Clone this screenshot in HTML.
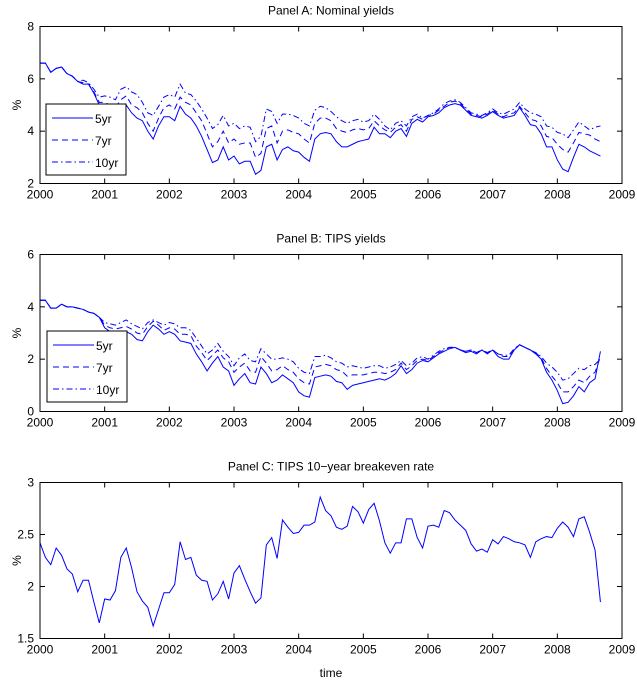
<!DOCTYPE html>
<html><head><meta charset="utf-8">
<style>
html,body{margin:0;padding:0;background:#fff;}
svg{display:block;font-family:"Liberation Sans",sans-serif;}
</style></head>
<body>
<svg id="fig" width="637" height="681" viewBox="0 0 637 681" xmlns="http://www.w3.org/2000/svg"></svg>
<script>
// ---- data (monthly, Jan 2000 .. Sep 2008) ----
const startYear = 2000;
const xTicks = [2000,2001,2002,2003,2004,2005,2006,2007,2008,2009];
const yTicksA = [2,4,6,8];
const yTicksB = [0,2,4,6];
const yTicksC = [1.5,2,2.5,3];
const yTickLabelsC = ["1.5","2","2.5","3"];
const seriesNames = ["5yr","7yr","10yr"];

const nominal5 = [6.6,6.6,6.25,6.4,6.45,6.2,6.1,5.9,5.8,5.8,5.45,5.0,
4.9,4.9,4.6,4.8,5.0,4.7,4.5,4.4,4.0,3.7,4.2,4.55,
4.55,4.4,4.95,4.65,4.5,4.2,3.8,3.3,2.8,2.9,3.4,2.9,
3.05,2.75,2.85,2.85,2.35,2.5,3.4,3.5,2.9,3.3,3.4,3.25,
3.2,3.0,2.85,3.7,3.9,3.95,3.9,3.6,3.4,3.4,3.5,3.6,
3.65,3.7,4.15,3.9,3.9,3.75,4.0,4.1,3.8,4.3,4.45,4.35,
4.55,4.6,4.7,4.9,5.0,5.05,5.0,4.8,4.6,4.55,4.5,4.6,
4.75,4.6,4.5,4.55,4.6,4.9,4.6,4.25,4.2,3.9,3.4,3.4,
2.9,2.55,2.45,3.0,3.5,3.4,3.25,3.15,3.05];
const nominal7 = [6.6,6.6,6.25,6.4,6.45,6.2,6.1,5.9,5.85,5.8,5.5,5.1,
5.1,5.0,4.9,5.2,5.35,5.0,4.9,4.7,4.3,4.0,4.5,4.9,
5.0,4.85,5.3,5.1,5.0,4.7,4.4,3.9,3.4,3.6,4.0,3.55,
3.7,3.5,3.55,3.55,3.0,3.15,4.1,4.2,3.55,4.0,4.05,3.95,
3.9,3.7,3.55,4.3,4.5,4.5,4.4,4.1,4.0,3.95,4.05,4.1,
4.05,4.1,4.4,4.2,4.05,3.95,4.15,4.25,4.0,4.45,4.55,4.45,
4.6,4.65,4.8,4.95,5.1,5.15,5.05,4.85,4.65,4.6,4.55,4.65,
4.8,4.65,4.55,4.65,4.7,4.95,4.7,4.45,4.4,4.2,3.8,3.75,
3.5,3.3,3.2,3.55,3.95,3.9,3.85,3.7,3.6];
const nominal10 = [6.6,6.6,6.25,6.4,6.45,6.2,6.1,5.9,5.95,5.85,5.6,5.3,
5.35,5.3,5.2,5.6,5.7,5.5,5.4,5.1,4.7,4.6,4.95,5.3,
5.4,5.3,5.8,5.45,5.4,5.15,4.85,4.5,4.1,4.25,4.6,4.2,
4.3,4.1,4.2,4.15,3.6,3.8,4.85,4.75,4.3,4.65,4.65,4.6,
4.5,4.3,4.2,4.8,4.95,4.9,4.75,4.55,4.4,4.3,4.4,4.45,
4.35,4.4,4.65,4.45,4.2,4.05,4.3,4.4,4.2,4.55,4.65,4.5,
4.6,4.7,4.85,5.05,5.15,5.2,5.1,4.9,4.7,4.65,4.6,4.7,
4.85,4.7,4.65,4.75,4.85,5.1,4.85,4.7,4.65,4.55,4.2,4.15,
3.95,3.9,3.75,4.05,4.35,4.2,4.05,4.15,4.2];

const tips5 = [4.25,4.25,3.95,3.95,4.1,4.0,4.0,3.95,3.9,3.8,3.75,3.6,
3.2,3.05,3.0,3.0,3.05,2.95,2.75,2.7,3.05,3.3,3.15,2.95,
3.05,2.95,2.7,2.65,2.6,2.2,1.9,1.55,1.85,2.1,1.7,1.55,
1.0,1.25,1.45,1.1,1.05,1.7,1.45,1.1,1.2,1.4,1.25,1.1,
0.75,0.6,0.55,1.3,1.35,1.4,1.35,1.15,1.1,0.85,1.0,1.05,
1.1,1.15,1.2,1.25,1.2,1.3,1.45,1.75,1.45,1.6,1.85,1.95,
1.9,2.05,2.2,2.3,2.4,2.45,2.35,2.25,2.3,2.2,2.35,2.2,
2.35,2.1,2.0,2.0,2.35,2.55,2.45,2.35,2.2,2.0,1.5,1.2,
0.8,0.3,0.35,0.6,0.95,0.75,1.1,1.25,2.3];
const tips7 = [4.25,4.25,3.95,3.95,4.1,4.0,4.0,3.95,3.9,3.8,3.75,3.6,
3.3,3.2,3.15,3.2,3.25,3.15,3.0,2.95,3.25,3.45,3.3,3.1,
3.2,3.15,2.95,2.95,2.9,2.5,2.25,1.95,2.15,2.35,2.05,1.9,
1.5,1.7,1.85,1.55,1.5,2.1,1.85,1.55,1.6,1.75,1.6,1.5,
1.25,1.1,1.05,1.7,1.75,1.8,1.75,1.6,1.55,1.35,1.4,1.4,
1.4,1.45,1.5,1.5,1.45,1.5,1.6,1.85,1.6,1.75,1.95,2.0,
1.95,2.1,2.25,2.35,2.45,2.45,2.35,2.3,2.35,2.25,2.35,2.25,
2.35,2.2,2.1,2.1,2.4,2.55,2.45,2.35,2.25,2.05,1.65,1.35,
1.1,0.75,0.75,0.95,1.2,1.1,1.35,1.5,2.1];
const tips10 = [4.25,4.25,3.95,3.95,4.1,4.0,4.0,3.95,3.9,3.8,3.75,3.6,
3.4,3.35,3.3,3.4,3.5,3.35,3.25,3.15,3.4,3.5,3.4,3.3,
3.4,3.35,3.2,3.2,3.1,2.8,2.5,2.2,2.35,2.6,2.3,2.1,
1.75,2.05,2.2,1.95,1.9,2.4,2.2,2.0,2.0,2.05,2.0,1.9,
1.65,1.5,1.45,2.1,2.1,2.15,2.05,1.9,1.85,1.7,1.75,1.7,
1.65,1.7,1.75,1.75,1.65,1.7,1.8,1.95,1.75,1.85,2.05,2.1,
2.0,2.15,2.3,2.4,2.45,2.45,2.35,2.3,2.35,2.25,2.35,2.25,
2.35,2.2,2.15,2.15,2.4,2.55,2.45,2.35,2.25,2.1,1.85,1.7,
1.5,1.2,1.25,1.45,1.65,1.6,1.75,1.8,2.0];

const breakeven10 = [2.42,2.28,2.21,2.37,2.30,2.17,2.12,1.95,2.06,2.06,1.85,1.65,
1.88,1.87,1.96,2.28,2.37,2.18,1.95,1.86,1.80,1.62,1.78,1.94,
1.94,2.02,2.43,2.26,2.28,2.11,2.06,2.05,1.87,1.93,2.05,1.88,
2.13,2.20,2.07,1.95,1.84,1.89,2.40,2.47,2.27,2.64,2.57,2.51,
2.52,2.59,2.59,2.62,2.86,2.73,2.68,2.57,2.55,2.58,2.77,2.72,
2.61,2.74,2.80,2.63,2.42,2.32,2.42,2.42,2.65,2.65,2.47,2.37,
2.58,2.59,2.57,2.73,2.71,2.64,2.59,2.54,2.41,2.34,2.36,2.33,
2.45,2.41,2.48,2.46,2.43,2.42,2.40,2.28,2.43,2.46,2.48,2.47,
2.56,2.62,2.57,2.48,2.65,2.67,2.52,2.35,1.85];

// ---- drawing ----
const NS = "http://www.w3.org/2000/svg";
const svg = document.getElementById("fig");
const BLUE = "#0000ff";
const dashes = [null, "6,4", "6,3,1.5,3"];
function mk(tag, attrs, parent){
  const e = document.createElementNS(NS, tag);
  for (const k in attrs) e.setAttribute(k, attrs[k]);
  (parent||svg).appendChild(e);
  return e;
}
const L = 40, R = 622;
function xScale(t){ return L + (t - 2000) / 9 * (R - L); }

function panel(key, top, bottom, yMin, yMax, yTicks, yLabels, title, series, legend){
  const g = mk("g", {});
  
  
  const ys = v => bottom - (v - yMin) / (yMax - yMin) * (bottom - top);
  const ttl = mk("text", {x:(L+R)/2, y:top-12, "text-anchor":"middle", "font-size":"12"}, g);
  ttl.textContent = title;
  
  
  series.forEach((vals, si) => {
    let d = "";
    vals.forEach((v, i) => {
      const t = startYear + i / 12;
      d += (i ? "L" : "M") + xScale(t).toFixed(2) + "," + ys(v).toFixed(2);
    });
    const p = mk("path", {d, fill:"none", stroke:BLUE, "stroke-width":"1"}, g);
    if (dashes[si]) p.setAttribute("stroke-dasharray", dashes[si]);
    
    
  });
  const fr = mk("rect", {x:L, y:top, width:R-L, height:bottom-top, fill:"none", stroke:"#000", "stroke-width":"1"}, g);
  
  
  xTicks.forEach(t => {
    const x = xScale(t);
    mk("line", {x1:x, x2:x, y1:bottom, y2:bottom-5, stroke:"#000"}, g);
    mk("line", {x1:x, x2:x, y1:top, y2:top+5, stroke:"#000"}, g);
    const tx = mk("text", {x:x, y:bottom+15, "text-anchor":"middle", "font-size":"12"}, g);
    tx.textContent = t;
    
    
  });
  yTicks.forEach((v, i) => {
    const y = ys(v);
    mk("line", {x1:L, x2:L+5, y1:y, y2:y, stroke:"#000"}, g);
    mk("line", {x1:R, x2:R-5, y1:y, y2:y, stroke:"#000"}, g);
    const tx = mk("text", {x:L-6, y:y+4, "text-anchor":"end", "font-size":"12"}, g);
    tx.textContent = yLabels[i];
    
    
  });
  const yl = mk("text", {x:0, y:0, "text-anchor":"middle", "font-size":"12", transform:"translate(21," + ((top+bottom)/2) + ") rotate(-90)"}, g);
  yl.textContent = "%";
  
  
  if (legend){
    const lg = mk("g", {}, g);
    
    
    mk("rect", {x:legend.x, y:legend.y, width:80, height:71, fill:"#fff", stroke:"#000"}, lg);
    seriesNames.forEach((n, i) => {
      const yy = legend.y + 14 + i * 22;
      const ln = mk("line", {x1:legend.x+6, x2:legend.x+47, y1:yy, y2:yy, stroke:BLUE}, lg);
      if (dashes[i]) ln.setAttribute("stroke-dasharray", dashes[i]);
      const tx = mk("text", {x:legend.x+49, y:yy+5, "font-size":"12"}, lg);
      tx.textContent = n;
      
      
    });
  }
}

panel("panel-a", 26.5, 183.5, 2, 8, yTicksA, yTicksA.map(String), "Panel A: Nominal yields",
  [nominal5, nominal7, nominal10], {x:46, y:104});
panel("panel-b", 254.5, 411.5, 0, 6, yTicksB, yTicksB.map(String), "Panel B: TIPS yields",
  [tips5, tips7, tips10], {x:47, y:331});
panel("panel-c", 482.5, 638.5, 1.5, 3, yTicksC, yTickLabelsC, "Panel C: TIPS 10\u2212year breakeven rate",
  [breakeven10], null);

const xt = mk("text", {x:(L+R)/2, y:677, "text-anchor":"middle", "font-size":"12"});
xt.textContent = "time";


</script>
</body></html>
